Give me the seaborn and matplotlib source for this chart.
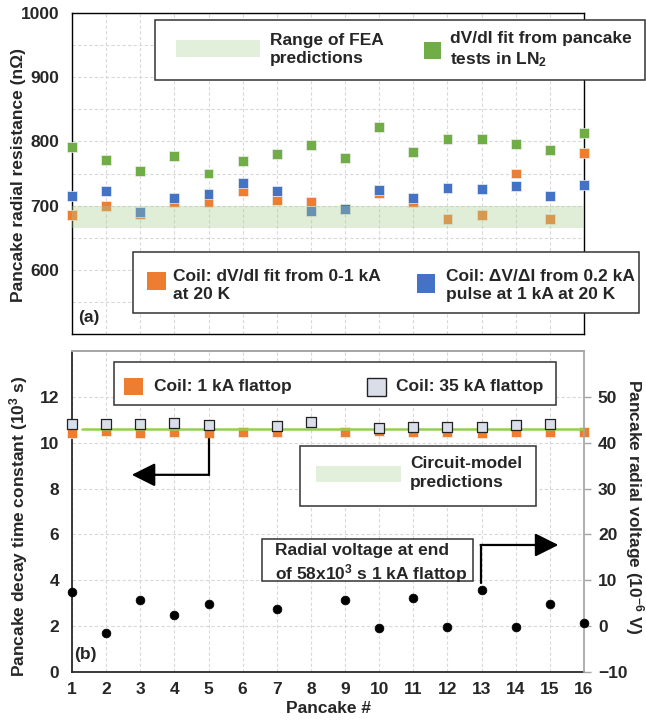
import numpy as np
import pandas as pd
import matplotlib
matplotlib.use("Agg")
import matplotlib.pyplot as plt
from matplotlib.patches import Rectangle
import seaborn as sns

# ---------------- data ----------------
pancakes = list(range(1, 17))

# (a) pancake radial resistance, nOhm
r_ln2_fit = [791, 771, 754, 777, 750, 769, 780, 795, 774, 822, 783, 804, 804, 796, 786, 813]
r_coil_fit = [685, 700, 686, 706, 706, 722, 708, 705, 695, 720, 705, 679, 685, 750, 679, 782]
r_coil_pulse = [715, 723, 690, 712, 718, 735, 723, 691, 695, 724, 712, 727, 726, 730, 715, 732]
fea_low, fea_high = 665, 700

# (b) pancake decay time constant, 10^3 s
tau_1ka = [10.41, 10.52, 10.44, 10.48, 10.41, 10.45, 10.47, np.nan, 10.48, 10.5,
           10.45, 10.45, 10.41, 10.48, 10.48, 10.46]
tau_35ka = [10.8, 10.8, 10.8, 10.85, 10.76, np.nan, 10.73, 10.9, np.nan, 10.63,
            10.69, 10.67, 10.67, 10.76, 10.8, np.nan]
circuit_model_x = [1.3, 16]
circuit_model_tau = [10.6, 10.6]

# radial voltage at end of 58x10^3 s 1 kA flattop, 10^-6 V
v_radial = [7.5, -1.4, 5.7, 2.4, 4.8, np.nan, 3.7, np.nan, 5.7, -0.4, 6.1, -0.1, 7.8, -0.1, 4.8, 0.6]

ORANGE = "#ED7D31"
BLUE = "#4472C4"
GREEN = "#70AD47"
BAND = "#A9D08E"
LIGHTGRAY = "#D9DEE8"
GRIDC = "#D9D9D9"
FS = 12.5

sns.set_theme(style="white")
plt.rcParams["font.family"] = ["Liberation Sans", "DejaVu Sans"]
plt.rcParams["font.weight"] = "bold"
plt.rcParams["axes.labelweight"] = "bold"
plt.rcParams["mathtext.fontset"] = "custom"
plt.rcParams["mathtext.rm"] = "Liberation Sans:bold"
plt.rcParams["mathtext.bf"] = "Liberation Sans:bold"
plt.rcParams["mathtext.default"] = "bf"

W, H = 646, 721
fig = plt.figure(figsize=(W / 100, H / 100), dpi=100)


def fx(x):
    return x / W


def fy(y):
    return 1 - y / H


ax_a = fig.add_axes([fx(72), fy(334), (584 - 72) / W, (334 - 13) / H])
ax_b = fig.add_axes([fx(72), fy(672), (584 - 72) / W, (672 - 351) / H])

# ---------------- panel (a) ----------------
df_a = pd.concat([
    pd.DataFrame({"pancake": pancakes, "resistance": r_ln2_fit, "series": "ln2"}),
    pd.DataFrame({"pancake": pancakes, "resistance": r_coil_fit, "series": "coil_fit"}),
    pd.DataFrame({"pancake": pancakes, "resistance": r_coil_pulse, "series": "coil_pulse"}),
], ignore_index=True)

sns.scatterplot(data=df_a, x="pancake", y="resistance", hue="series",
                palette={"ln2": GREEN, "coil_fit": ORANGE, "coil_pulse": BLUE},
                marker="s", s=50, edgecolor="#EFEFEF", linewidth=0.5,
                legend=False, clip_on=False, zorder=3, ax=ax_a)
ax_a.fill_between([1, 16], fea_low, fea_high, color=BAND, alpha=0.35, lw=0, zorder=5)

ax_a.set_xlim(1, 16)
ax_a.set_ylim(500, 1000)
ax_a.set_xticks(pancakes)
ax_a.set_xticklabels([])
ax_a.set_yticks([600, 700, 800, 900, 1000])
ax_a.set_yticks(np.arange(550, 1000, 50), minor=True)
ax_a.tick_params(axis="both", which="both", length=0)
ax_a.tick_params(axis="y", labelsize=FS, pad=9)
ax_a.grid(which="both", axis="both", color=GRIDC, ls=(0, (3, 2)), lw=0.8)
ax_a.set_axisbelow(True)
ax_a.set_xlabel("")
ax_a.set_ylabel("Pancake radial resistance (nΩ)", fontsize=FS, va="center")
ax_a.yaxis.set_label_coords((19 - 72) / 512, 0.495)
for s in ax_a.spines.values():
    s.set_color("black")
    s.set_linewidth(1.0)
ax_a.text(0.012, 0.05, "(a)", transform=ax_a.transAxes, fontsize=FS,
          fontweight="bold", va="center", ha="left")

# ---------------- panel (b) ----------------
df_1ka = pd.DataFrame({"pancake": pancakes, "tau": tau_1ka})
df_35ka = pd.DataFrame({"pancake": pancakes, "tau": tau_35ka})
df_v = pd.DataFrame({"pancake": pancakes, "voltage": v_radial})

sns.scatterplot(data=df_1ka, x="pancake", y="tau", color=ORANGE, marker="s", s=50,
                edgecolor="#F4F4F4", linewidth=0.5, clip_on=False, zorder=3, ax=ax_b)
ax_b.plot(circuit_model_x, circuit_model_tau, color="#92D050", lw=1.8, zorder=4)
sns.scatterplot(data=df_35ka, x="pancake", y="tau", color=LIGHTGRAY, marker="s", s=44,
                edgecolor="#222222", linewidth=0.9, clip_on=False, zorder=5, ax=ax_b)

ax_b.set_xlim(1, 16)
ax_b.set_ylim(0, 14)
ax_b.set_xticks(pancakes)
ax_b.set_yticks(np.arange(0, 13, 2))
ax_b.tick_params(axis="both", length=0, labelsize=FS)
ax_b.tick_params(axis="y", pad=9)
ax_b.tick_params(axis="x", pad=7)
ax_b.grid(axis="both", color=GRIDC, ls=(0, (3, 2)), lw=0.8)
ax_b.set_axisbelow(True)
ax_b.set_xlabel("Pancake #", fontsize=FS, labelpad=3)
ax_b.set_ylabel("Pancake decay time constant (10$^{3}$ s)", fontsize=FS, va="center")
ax_b.yaxis.set_label_coords((19 - 72) / 512, 0.455)
ax_b.spines["left"].set_color("#222222")
ax_b.spines["bottom"].set_color("#222222")
ax_b.spines["top"].set_color("#A6A6A6")
ax_b.spines["right"].set_visible(False)
ax_b.text(0.004, 0.053, "(b)", transform=ax_b.transAxes, fontsize=FS,
          fontweight="bold", va="center", ha="left")

ax_v = ax_b.twinx()
sns.scatterplot(data=df_v, x="pancake", y="voltage", color="black", marker="o", s=40,
                edgecolor="black", linewidth=0.5, clip_on=False, zorder=6, ax=ax_v)
ax_v.set_ylim(-10, 60)
ax_v.set_yticks(np.arange(-10, 51, 10))
ax_v.tick_params(axis="y", length=5, width=1, color="#A6A6A6", labelsize=FS, pad=5)
ax_v.set_ylabel("Pancake radial voltage (10$^{-6}$ V)", fontsize=FS, rotation=270, va="center")
ax_v.yaxis.set_label_coords((634 - 72) / 512, 0.515)
for k in ("left", "bottom"):
    ax_v.spines[k].set_visible(False)
ax_v.spines["right"].set_color("#A6A6A6")
ax_v.spines["top"].set_color("#A6A6A6")

# arrows pointing to the axis each data set belongs to
arrow_kw = dict(arrowstyle="-|>,head_length=0.9,head_width=0.45", color="black",
                lw=1.6, mutation_scale=16, shrinkA=0, shrinkB=0)
ax_b.plot([5, 5], [10.15, 8.6], color="black", lw=1.6, zorder=7)
ax_b.annotate("", xy=(2.75, 8.6), xytext=(5, 8.6), arrowprops=arrow_kw, zorder=7)
ax_v.plot([12.97, 12.97], [9.5, 17.7], color="black", lw=1.6, zorder=7)
ax_v.annotate("", xy=(15.25, 17.7), xytext=(12.97, 17.7), arrowprops=arrow_kw, zorder=7)


# ---------------- legend boxes ----------------
def box(x0, y0, x1, y1):
    fig.patches.append(Rectangle((fx(x0), fy(y1)), (x1 - x0) / W, (y1 - y0) / H,
                                 transform=fig.transFigure, facecolor="white",
                                 edgecolor="#333333", lw=1.1, zorder=10))


def swatch(x0, y0, x1, y1, fc, ec="none", lw=0.0):
    fig.patches.append(Rectangle((fx(x0), fy(y1)), (x1 - x0) / W, (y1 - y0) / H,
                                 transform=fig.transFigure, facecolor=fc,
                                 edgecolor=ec, lw=lw, zorder=11))


def label(x, y, s):
    fig.text(fx(x), fy(y), s, fontsize=FS, fontweight="bold", ha="left", va="center",
             linespacing=1.25, zorder=12)


# (a) upper legend
box(155, 20, 645, 80)
swatch(176, 40, 260, 57, "#E2EFDA")
label(270, 49, "Range of FEA\npredictions")
swatch(424, 42, 441, 59, GREEN)
label(450, 50, "dV/dI fit from pancake\ntests in LN$_2$")

# (a) lower legend
box(133, 252, 639, 313)
swatch(147, 272, 166, 290, ORANGE)
label(173, 285, "Coil: dV/dI fit from 0-1 kA\nat 20 K")
swatch(417, 274, 435, 293, BLUE)
label(446, 285, "Coil: ΔV/ΔI from 0.2 kA\npulse at 1 kA at 20 K")

# (b) legend
box(114, 362, 556, 405)
swatch(124, 378, 143, 395, ORANGE)
label(154, 386, "Coil: 1 kA flattop")
swatch(367, 378, 386, 396, LIGHTGRAY, ec="#222222", lw=1.0)
label(396, 386, "Coil: 35 kA flattop")

box(300, 446, 536, 506)
swatch(316, 466, 401, 482, "#E2EFDA")
label(410, 473, "Circuit-model\npredictions")

box(262, 539, 473, 581)
label(275, 564, "Radial voltage at end\nof 58x10$^{3}$ s 1 kA flattop")

fig.savefig("out.png", dpi=100)
